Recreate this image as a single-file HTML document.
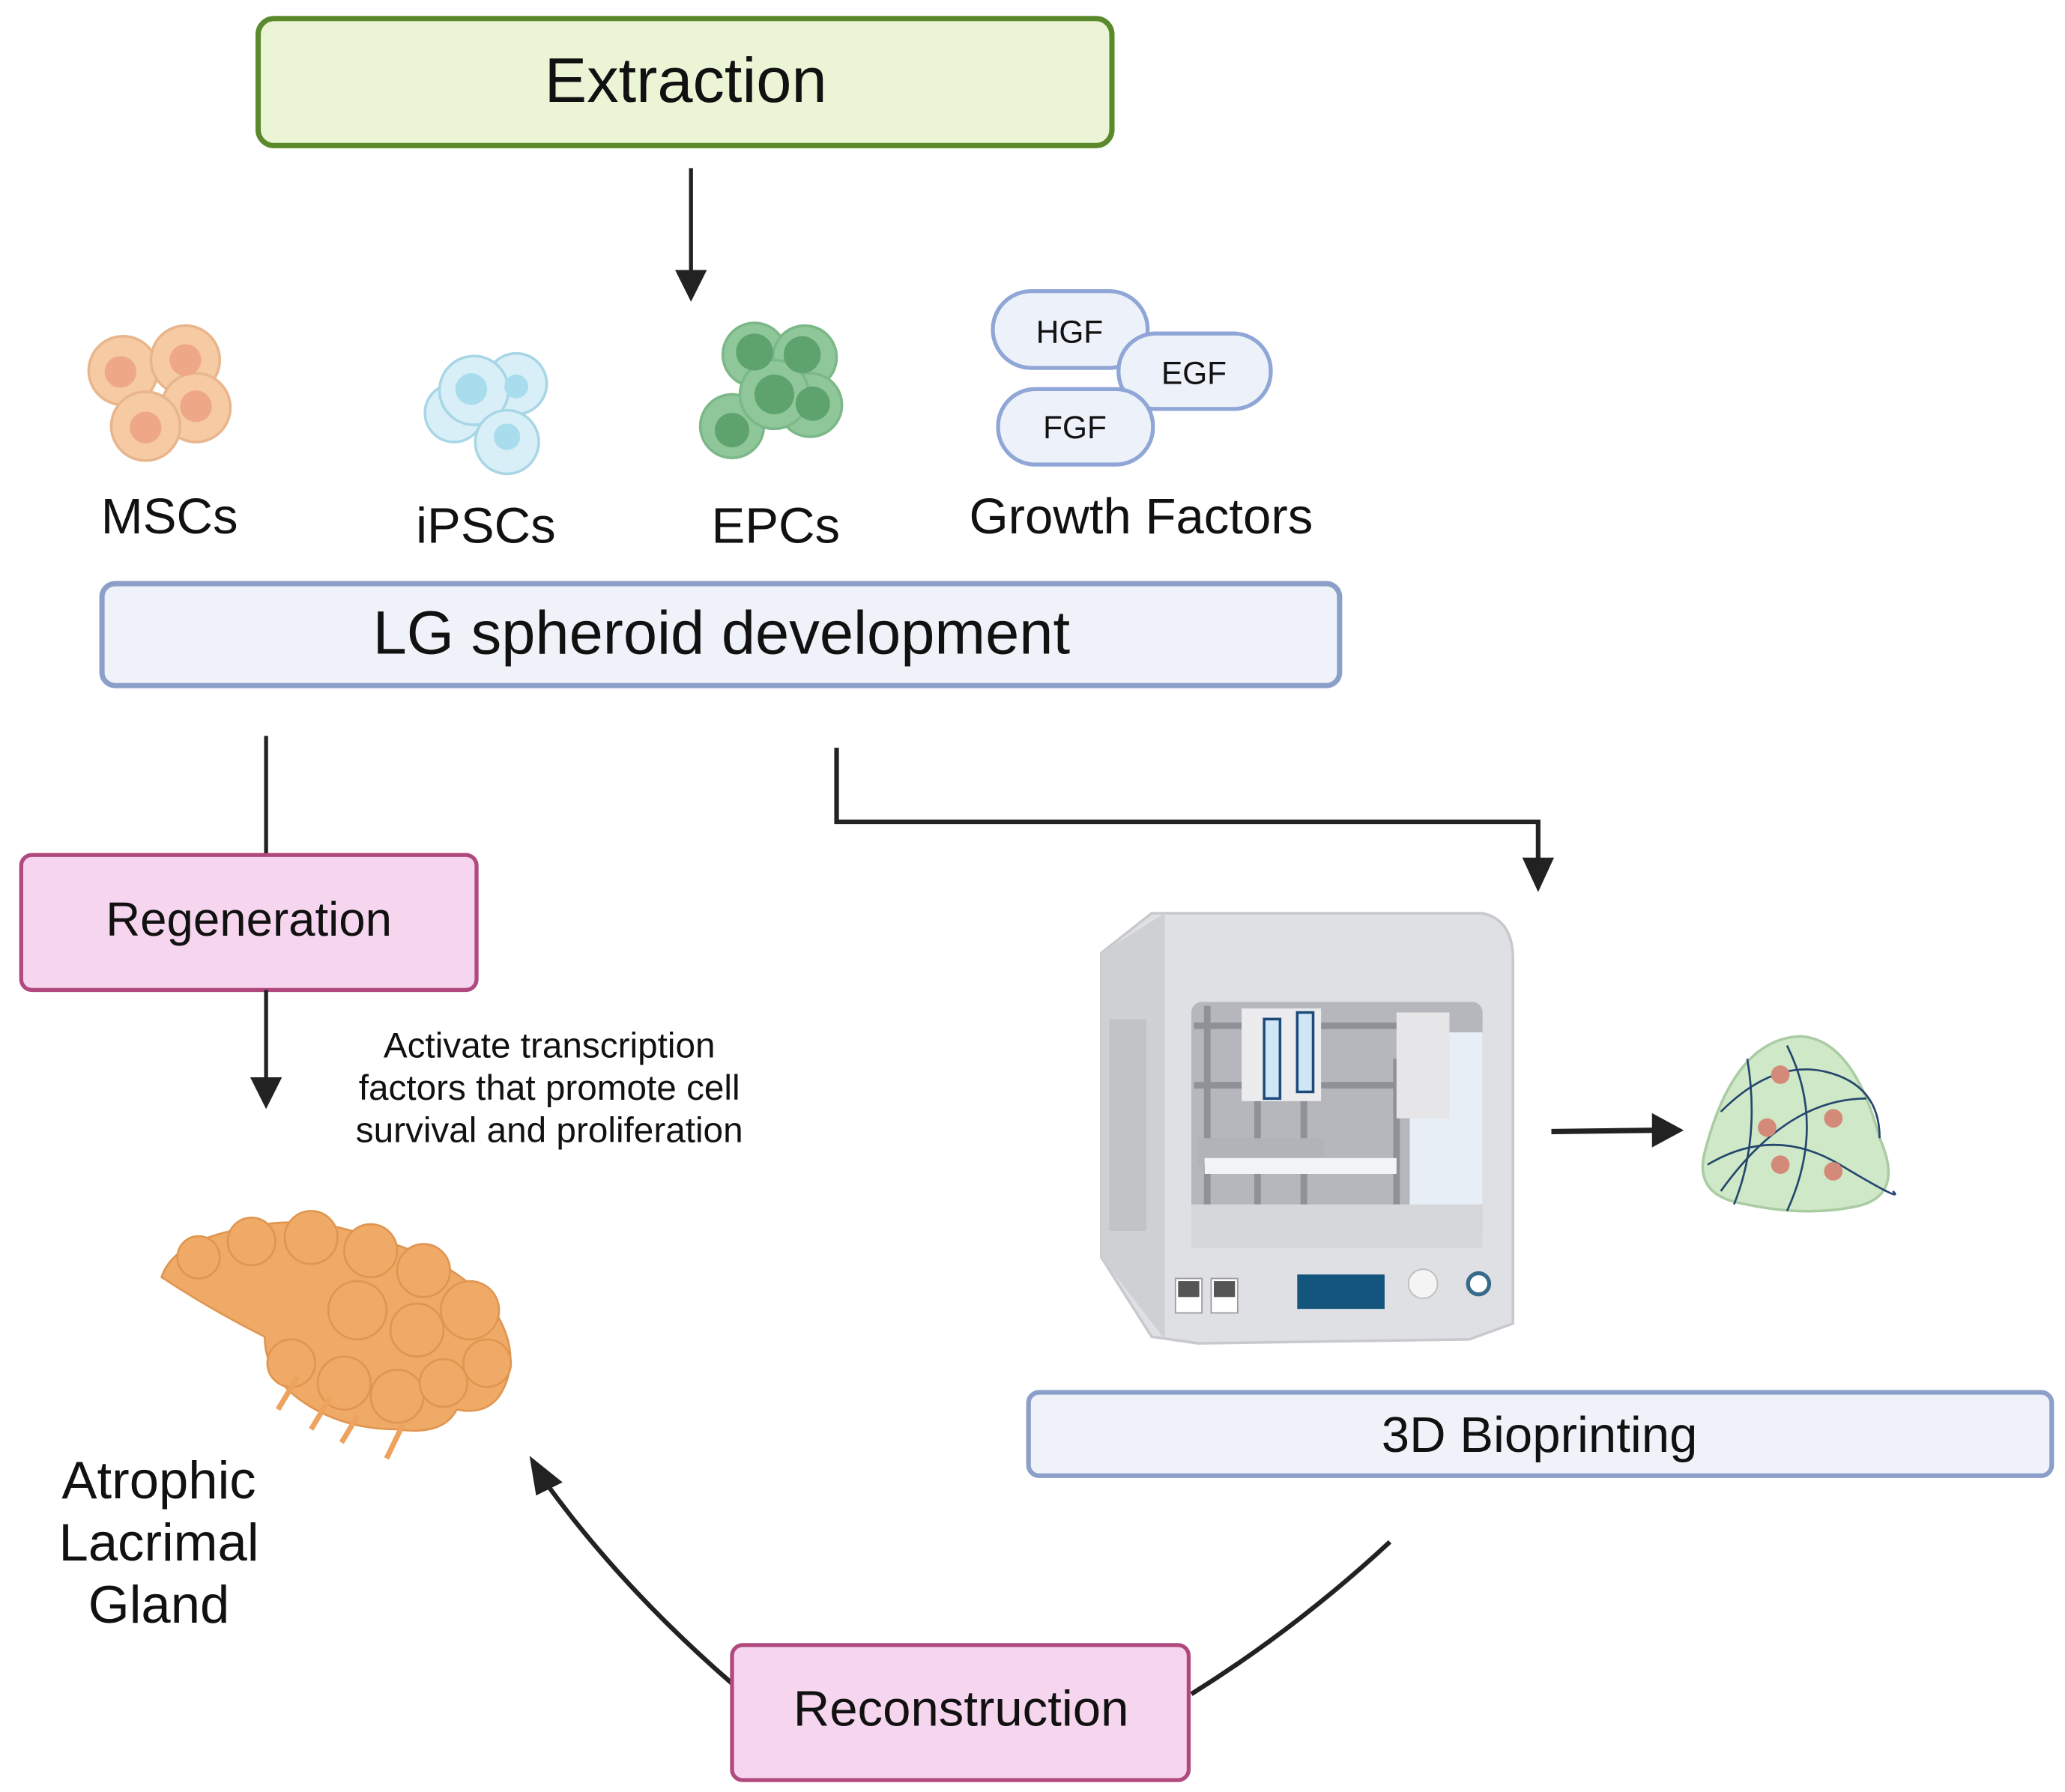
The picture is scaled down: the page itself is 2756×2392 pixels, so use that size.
<!DOCTYPE html>
<html><head><meta charset="utf-8"><style>
html,body{margin:0;padding:0;background:#fff;}
svg{display:block;}
text{font-family:"Liberation Sans",sans-serif;fill:#111;}
</style></head><body>
<svg width="2756" height="2392" viewBox="0 0 1560 1354" xmlns="http://www.w3.org/2000/svg">
<!-- Extraction -->
<rect x="195" y="14" width="645" height="96" rx="12" fill="#ecf4d6" stroke="#5b8a2c" stroke-width="4"/>
<text x="518" y="77" font-size="48" text-anchor="middle">Extraction</text>
<line x1="522" y1="127" x2="522" y2="205" stroke="#222" stroke-width="3"/>
<path d="M510,204 L534,204 L522,228 z" fill="#222"/>

<!-- MSCs -->
<g stroke="#e8b58c" stroke-width="2">
<circle cx="93" cy="280" r="26" fill="#f6cba4"/><circle cx="140" cy="272" r="26" fill="#f6cba4"/>
<circle cx="148" cy="308" r="26" fill="#f6cba4"/><circle cx="110" cy="322" r="26" fill="#f6cba4"/>
</g>
<g fill="#eea888"><circle cx="91" cy="281" r="12"/><circle cx="140" cy="272" r="12"/><circle cx="148" cy="307" r="12"/><circle cx="110" cy="323" r="12"/></g>
<!-- iPSCs -->
<g stroke="#a8d6e6" stroke-width="2" fill="#d8eff7">
<circle cx="343" cy="312" r="22"/><circle cx="390" cy="290" r="23"/><circle cx="358" cy="295" r="26"/><circle cx="383" cy="334" r="24"/>
</g>
<g fill="#a9dcec"><circle cx="390" cy="292" r="9"/><circle cx="356" cy="294" r="12"/><circle cx="383" cy="330" r="10"/></g>
<!-- EPCs -->
<g fill="#8fc79a" stroke="#7bb888" stroke-width="2">
<circle cx="570" cy="268" r="24"/><circle cx="608" cy="270" r="24"/><circle cx="553" cy="322" r="24"/><circle cx="612" cy="306" r="24"/><circle cx="585" cy="298" r="26"/>
</g>
<g fill="#5ea36e"><circle cx="570" cy="266" r="14"/><circle cx="606" cy="268" r="14"/><circle cx="553" cy="325" r="13"/><circle cx="614" cy="305" r="13"/><circle cx="585" cy="298" r="15"/></g>
<!-- Growth factors -->
<g fill="#edf1fa" stroke="#8fa6d6" stroke-width="3">
<rect x="750" y="220" width="117" height="58" rx="29"/>
<rect x="845" y="252" width="115" height="57" rx="28"/>
<rect x="754" y="294" width="117" height="57" rx="28"/>
</g>
<text x="808" y="259" font-size="24" text-anchor="middle">HGF</text>
<text x="902" y="290" font-size="24" text-anchor="middle">EGF</text>
<text x="812" y="331" font-size="24" text-anchor="middle">FGF</text>

<text x="128" y="403" font-size="38" text-anchor="middle">MSCs</text>
<text x="367" y="410" font-size="38" text-anchor="middle">iPSCs</text>
<text x="586" y="410" font-size="38" text-anchor="middle">EPCs</text>
<text x="862" y="403" font-size="38" text-anchor="middle">Growth Factors</text>

<!-- LG spheroid -->
<rect x="77" y="441" width="935" height="77" rx="10" fill="#eff3f9" stroke="#8b9fc8" stroke-width="4"/>
<text x="545" y="494" font-size="46" text-anchor="middle">LG spheroid development</text>

<!-- left branch -->
<line x1="201" y1="556" x2="201" y2="646" stroke="#222" stroke-width="3"/>
<rect x="16" y="646" width="344" height="102" rx="8" fill="#f6d5ee" stroke="#b0497e" stroke-width="3"/>
<text x="188" y="707" font-size="36" text-anchor="middle">Regeneration</text>
<line x1="201" y1="748" x2="201" y2="815" stroke="#222" stroke-width="3"/>
<path d="M189,814 L213,814 L201,838 z" fill="#222"/>
<text font-size="27" text-anchor="middle"><tspan x="415" y="799">Activate transcription</tspan><tspan x="415" y="831">factors that promote cell</tspan><tspan x="415" y="863">survival and proliferation</tspan></text>

<!-- right branch -->
<polyline points="632,565 632,621 1162,621 1162,650" fill="none" stroke="#222" stroke-width="3.5"/>
<path d="M1150,648 L1174,648 L1162,674 z" fill="#222"/>

<!-- printer -->
<path d="M832,720 L870,690 L1120,690 Q1143,695 1143,725 L1143,1000 L1110,1012 L905,1015 L870,1010 L832,950 z" fill="#dfe0e4" stroke="#c8c9cd" stroke-width="2"/>
<path d="M832,720 L880,690 L880,1012 L832,950 z" fill="#cfd0d4"/>
<rect x="900" y="757" width="220" height="186" rx="8" fill="#b5b7bc"/>
<g stroke="#8e9196" stroke-width="5"><line x1="912" y1="760" x2="912" y2="930"/><line x1="950" y1="800" x2="950" y2="930"/><line x1="985" y1="800" x2="985" y2="930"/><line x1="1055" y1="800" x2="1055" y2="930"/><line x1="902" y1="775" x2="1060" y2="775"/><line x1="902" y1="820" x2="1060" y2="820"/></g>
<rect x="1065" y="780" width="55" height="160" fill="#e8eef6"/>
<rect x="900" y="910" width="220" height="33" fill="#d5d7db"/>
<rect x="1055" y="765" width="40" height="80" fill="#e6e6e8"/>
<rect x="938" y="762" width="60" height="70" fill="#ececee"/>
<rect x="955" y="770" width="12" height="60" fill="#cfe6f6" stroke="#1e4a7a" stroke-width="2"/>
<rect x="980" y="765" width="12" height="60" fill="#cfe6f6" stroke="#1e4a7a" stroke-width="2"/>
<rect x="905" y="860" width="95" height="20" fill="#b0b3b8"/>
<rect x="910" y="875" width="145" height="12" fill="#f2f3f5"/>
<rect x="838" y="770" width="28" height="160" fill="#c2c3c7"/>
<rect x="888" y="966" width="20" height="26" fill="#fff" stroke="#999"/><rect x="890" y="968" width="16" height="12" fill="#555"/>
<rect x="915" y="966" width="20" height="26" fill="#fff" stroke="#999"/><rect x="917" y="968" width="16" height="12" fill="#555"/>
<rect x="980" y="963" width="66" height="26" fill="#14557e"/>
<circle cx="1075" cy="970" r="11" fill="#f4f4f4" stroke="#bbb"/>
<circle cx="1117" cy="970" r="8" fill="#fff" stroke="#3a6a8a" stroke-width="3"/>

<line x1="1172" y1="855" x2="1250" y2="854" stroke="#222" stroke-width="4"/>
<path d="M1248,841 L1272,854 L1248,867 z" fill="#222"/>

<!-- spheroid -->
<path d="M1360,783 Q1400,785 1420,860 Q1440,905 1400,912 Q1360,920 1310,908 Q1280,900 1288,870 Q1310,785 1360,783 z" fill="#cfe8c8" stroke="#aacca2" stroke-width="2"/>
<g fill="none" stroke="#24466e" stroke-width="1.5">
<path d="M1300,840 Q1340,800 1380,810 T1420,860"/><path d="M1290,880 Q1340,850 1390,880 T1430,900"/>
<path d="M1320,800 Q1330,860 1310,910"/><path d="M1350,790 Q1380,850 1350,915"/><path d="M1300,900 Q1350,830 1410,830"/>
</g>
<g fill="#d38a78"><circle cx="1345" cy="812" r="7"/><circle cx="1335" cy="852" r="7"/><circle cx="1385" cy="845" r="7"/><circle cx="1345" cy="880" r="7"/><circle cx="1385" cy="885" r="7"/></g>

<!-- 3D bioprinting -->
<rect x="777" y="1052" width="773" height="63" rx="8" fill="#eff3f9" stroke="#8b9fc8" stroke-width="3.5"/>
<text x="1163" y="1097" font-size="38" text-anchor="middle">3D Bioprinting</text>

<!-- gland -->
<g fill="#eeaa66" stroke="#e09650" stroke-width="1.5">
<path d="M122,965 Q130,940 175,930 Q230,915 280,935 Q340,950 370,985 Q395,1020 380,1050 Q370,1070 345,1065 Q335,1085 300,1080 Q260,1080 230,1060 Q200,1040 200,1010 Q160,990 122,965 z"/>
<circle cx="150" cy="950" r="16"/><circle cx="190" cy="938" r="18"/><circle cx="235" cy="935" r="20"/><circle cx="280" cy="945" r="20"/><circle cx="320" cy="960" r="20"/><circle cx="355" cy="990" r="22"/><circle cx="368" cy="1030" r="18"/>
<circle cx="220" cy="1030" r="18"/><circle cx="260" cy="1045" r="20"/><circle cx="300" cy="1055" r="20"/><circle cx="335" cy="1045" r="18"/><circle cx="270" cy="990" r="22"/><circle cx="315" cy="1005" r="20"/>
</g>
<g stroke="#eda35e" stroke-width="4"><line x1="225" y1="1040" x2="210" y2="1065"/><line x1="250" y1="1055" x2="235" y2="1080"/><line x1="270" y1="1070" x2="258" y2="1090"/><line x1="305" y1="1075" x2="292" y2="1102"/></g>
<text font-size="40" text-anchor="middle"><tspan x="120" y="1132">Atrophic</tspan><tspan x="120" y="1179">Lacrimal</tspan><tspan x="120" y="1226">Gland</tspan></text>

<!-- reconstruction -->
<path d="M1050,1165 Q980,1230 900,1280" fill="none" stroke="#222" stroke-width="3.5"/>
<path d="M553,1272 Q470,1200 412,1120" fill="none" stroke="#222" stroke-width="3.5"/>
<path d="M400,1100 L425,1120 L405,1130 z" fill="#222"/>
<rect x="553" y="1243" width="345" height="102" rx="8" fill="#f6d5ee" stroke="#b0497e" stroke-width="3"/>
<text x="726" y="1304" font-size="38" text-anchor="middle">Reconstruction</text>
</svg>
</body></html>
